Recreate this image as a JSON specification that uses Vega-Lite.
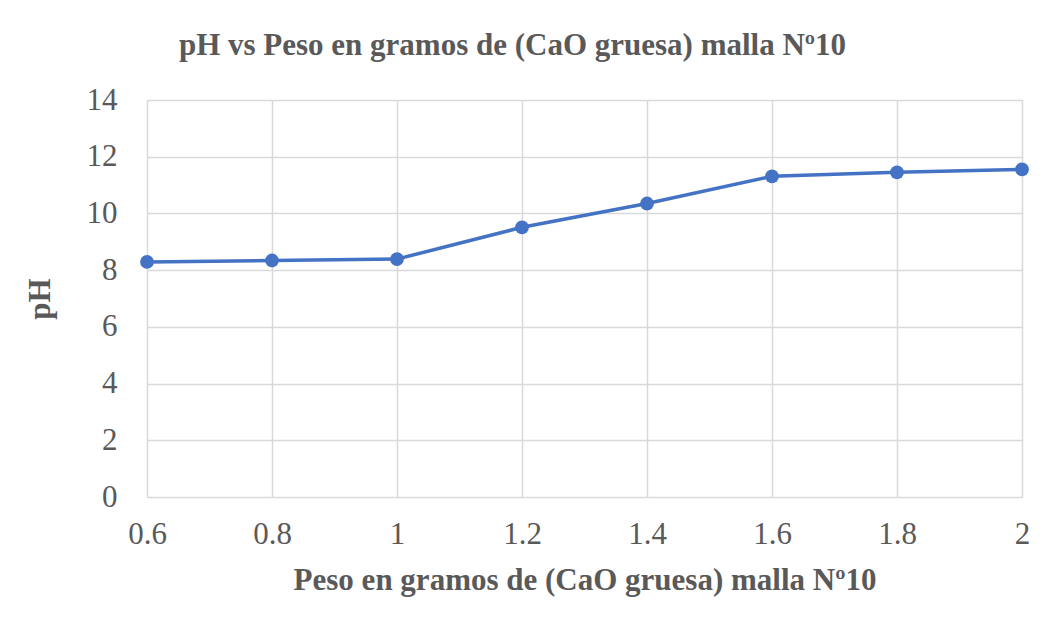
{
  "$schema": "https://vega.github.io/schema/vega-lite/v6.json",
  "width": 875,
  "height": 397,
  "autosize": {"type": "none"},
  "padding": {"left": 147, "top": 100, "right": 27, "bottom": 128},
  "background": "white",
  "title": {
    "text": "pH vs Peso en gramos de  (CaO gruesa) malla Nº10",
    "font": "Liberation Serif",
    "fontSize": 31,
    "fontWeight": "bold",
    "color": "#595959",
    "anchor": "middle",
    "offset": 22,
    "dx": -72
  },
  "data": {
    "values": [
      {"peso": 0.6, "ph": 8.29},
      {"peso": 0.8, "ph": 8.34},
      {"peso": 1.0, "ph": 8.39},
      {"peso": 1.2, "ph": 9.51},
      {"peso": 1.4, "ph": 10.35},
      {"peso": 1.6, "ph": 11.31},
      {"peso": 1.8, "ph": 11.45},
      {"peso": 2.0, "ph": 11.55}
    ]
  },
  "config": {
    "view": {"stroke": null},
    "axis": {
      "labelFont": "Liberation Serif",
      "titleFont": "Liberation Serif",
      "labelColor": "#595959",
      "titleColor": "#595959",
      "labelFontSize": 31,
      "titleFontSize": 31,
      "titleFontWeight": "bold",
      "gridColor": "#d9d9d9",
      "gridWidth": 1.5,
      "ticks": false,
      "domain": false
    }
  },
  "layer": [
    {
      "mark": {"type": "line", "color": "#4472C4", "strokeWidth": 3.5},
      "encoding": {
        "x": {
          "field": "peso", "type": "quantitative",
          "scale": {"domain": [0.6, 2], "nice": false, "zero": false},
          "axis": {"values": [0.6, 0.8, 1, 1.2, 1.4, 1.6, 1.8, 2], "format": "~g", "title": "Peso en gramos de (CaO gruesa) malla Nº10", "labelPadding": 22, "titlePadding": 16, "labelFlush": false}
        },
        "y": {
          "field": "ph", "type": "quantitative",
          "scale": {"domain": [0, 14], "nice": false},
          "axis": {"values": [0, 2, 4, 6, 8, 10, 12, 14], "title": "pH", "labelPadding": 30, "titlePadding": 30}
        }
      }
    },
    {
      "mark": {"type": "point", "filled": true, "color": "#4472C4", "size": 190, "opacity": 1},
      "encoding": {
        "x": {"field": "peso", "type": "quantitative"},
        "y": {"field": "ph", "type": "quantitative"}
      }
    }
  ]
}
